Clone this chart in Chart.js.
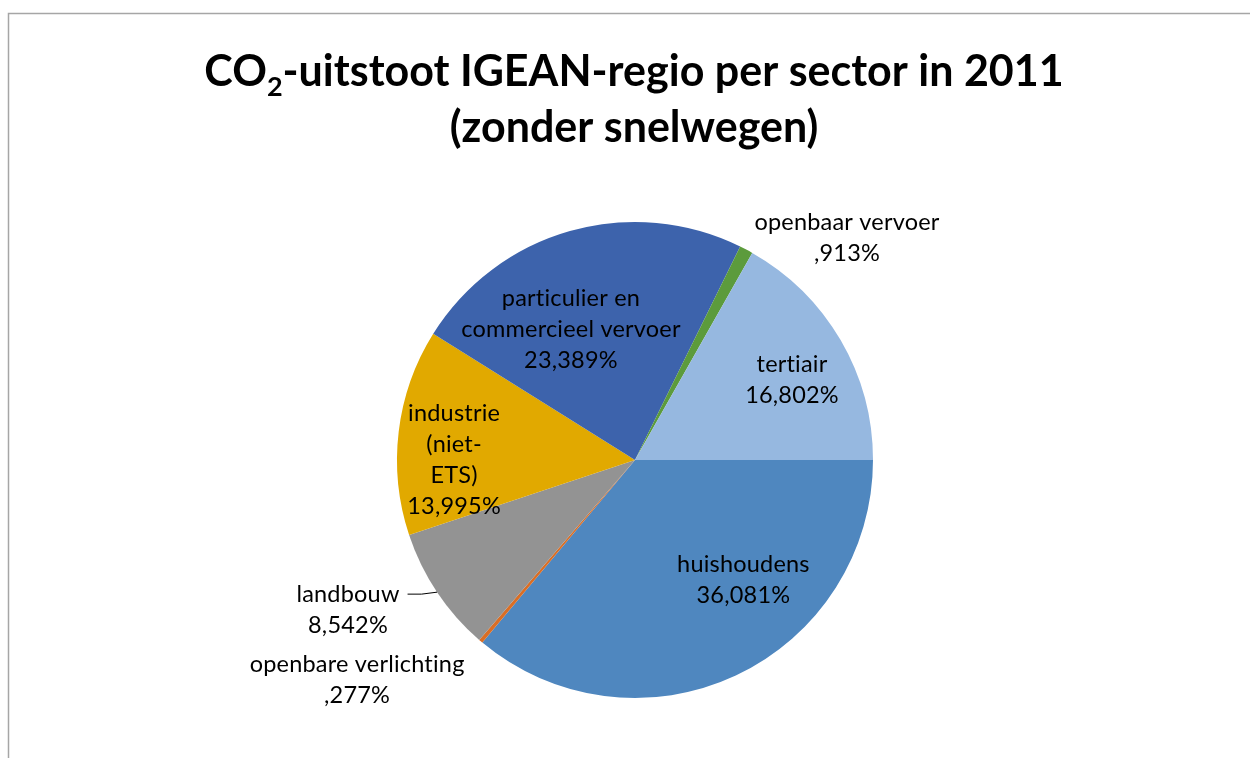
<!DOCTYPE html>
<html>
<head>
<meta charset="utf-8">
<script src="https://cdn.jsdelivr.net/npm/chart.js@4.4.1/dist/chart.umd.min.js"></script>
<style>
  html, body { margin: 0; padding: 0; background: #fff; overflow: hidden; }
  #wrap { position: relative; width: 1250px; height: 758px; }
</style>
</head>
<body>
<div id="wrap"><canvas id="pieChart" width="1250" height="758"></canvas></div>
<script>
// Sectors in clockwise order, starting at 3 o'clock
const sectors = [
  'huishoudens', 'openbare verlichting', 'landbouw', 'industrie (niet-ETS)',
  'particulier en commercieel vervoer', 'openbaar vervoer', 'tertiair'
];
const shares = [36.081, 0.277, 8.542, 13.995, 23.389, 0.913, 16.802];
const sliceColors = ['#4F87BF', '#DA6E25', '#939393', '#E1A900', '#3D63AC', '#5C9B3C', '#96B8E0'];
// label text, wrapped like the source
const labelLines = [
  ['huishoudens'], ['openbare verlichting'], ['landbouw'], ['industrie', '(niet-', 'ETS)'],
  ['particulier en', 'commercieel vervoer'], ['openbaar vervoer'], ['tertiair']
];
const titleLines = ['CO|2|-uitstoot IGEAN-regio per sector in 2011', '(zonder snelwegen)'];

const labelFont = '23.5px Lato';
const lineH = 31;

function fmtPct(v) {
  return v.toFixed(3).replace('.', ',').replace(/^0/, '') + '%';
}

// where each label sits: angle shift from slice middle (deg) and distance as share of radius
const labelPlacement = [
  { shift: -17, dist: 0.68 },
  { shift: 11.2, dist: 1.49 },
  { shift: 6.2, dist: 1.36, leader: true },
  { shift: -6.8, dist: 0.76 },
  { shift: -10.3, dist: 0.61 },
  { shift: 15.8, dist: 1.29 },
  { shift: 3.3, dist: 0.74 }
];

const framePlugin = {
  id: 'frame',
  beforeDraw(chart) {
    const c = chart.ctx;
    c.save();
    c.strokeStyle = '#a6a6a6';
    c.lineWidth = 1.5;
    c.beginPath();
    c.moveTo(8.5, 760);
    c.lineTo(8.5, 13.5);
    c.lineTo(1252, 13.5);
    c.stroke();
    c.restore();
  }
};

const titlePlugin = {
  id: 'subTitle',
  afterDraw(chart) {
    const c = chart.ctx;
    c.save();
    c.fillStyle = '#000';
    c.textBaseline = 'alphabetic';
    const big = 'bold 43px Lato', small = 'bold 27px Lato';
    // first line with subscript 2
    const parts = titleLines[0].split('|');
    c.font = big;
    const w0 = c.measureText(parts[0]).width, w2 = c.measureText(parts[2]).width;
    c.font = small;
    const w1 = c.measureText(parts[1]).width;
    let x = 634 - (w0 + w1 + w2) / 2;
    const y1 = 86;
    c.textAlign = 'left';
    c.font = big; c.fillText(parts[0], x, y1); x += w0;
    c.font = small; c.fillText(parts[1], x, y1 + 10); x += w1;
    c.font = big; c.fillText(parts[2], x, y1);
    c.textAlign = 'center';
    c.fillText(titleLines[1], 634, 142);
    c.restore();
  }
};

const labelPlugin = {
  id: 'sliceLabels',
  afterDatasetsDraw(chart) {
    const c = chart.ctx;
    const meta = chart.getDatasetMeta(0);
    c.save();
    c.font = labelFont;
    c.letterSpacing = '0.2px'; // also keeps "ti" from turning into a ligature
    c.fillStyle = '#000';
    c.textAlign = 'center';
    c.textBaseline = 'middle';
    meta.data.forEach((arc, i) => {
      const p = arc.getProps(['x', 'y', 'startAngle', 'endAngle', 'outerRadius'], true);
      const place = labelPlacement[i];
      const mid = (p.startAngle + p.endAngle) / 2;
      const a = mid + place.shift * Math.PI / 180;
      const cx = p.x + Math.cos(a) * p.outerRadius * place.dist;
      const cy = p.y + Math.sin(a) * p.outerRadius * place.dist;
      const lines = labelLines[i].concat([fmtPct(shares[i])]);
      const top = cy - (lines.length - 1) * lineH / 2;
      lines.forEach((t, k) => c.fillText(t, cx, top + k * lineH));
      if (place.leader) {
        const ex = p.x + Math.cos(mid) * p.outerRadius;
        const ey = p.y + Math.sin(mid) * p.outerRadius;
        const tx = cx + c.measureText(lines[0]).width / 2 + 8;
        c.strokeStyle = '#000';
        c.lineWidth = 1;
        c.beginPath();
        c.moveTo(ex, ey);
        c.lineTo(tx + 14, top);
        c.lineTo(tx, top);
        c.stroke();
      }
    });
    c.restore();
  }
};

const ctx = document.getElementById('pieChart').getContext('2d');
const pieChart = new Chart(ctx, {
  type: 'pie',
  data: {
    labels: sectors,
    datasets: [{
      data: shares,
      backgroundColor: sliceColors,
      borderWidth: 0,
      hoverOffset: 0
    }]
  },
  options: {
    responsive: false,
    animation: false,
    rotation: 90,
    layout: { padding: { left: 397, right: 377, top: 222, bottom: 60 } },
    plugins: {
      legend: { display: false },
      tooltip: { enabled: false },
      title: { display: false }
    }
  },
  plugins: [framePlugin, titlePlugin, labelPlugin]
});
</script>
</body>
</html>
